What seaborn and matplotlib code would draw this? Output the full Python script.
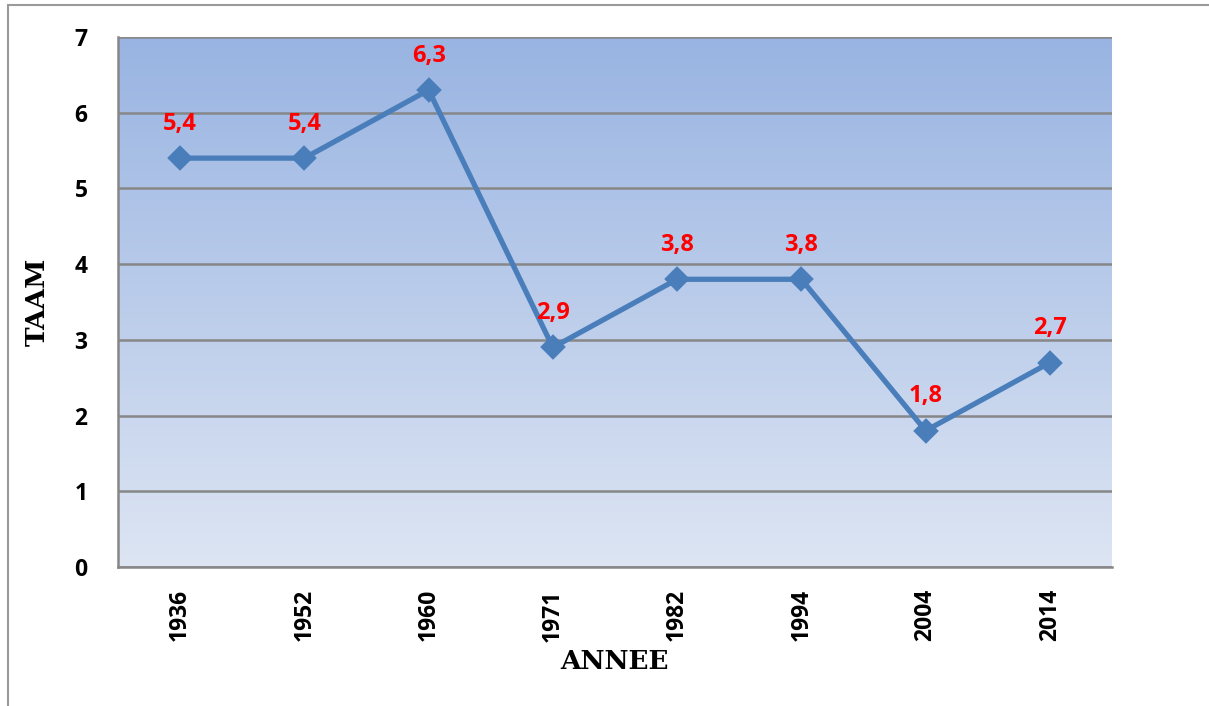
import numpy as np
import pandas as pd
import matplotlib.pyplot as plt
import seaborn as sns
from matplotlib.patches import Rectangle
from matplotlib.colors import LinearSegmentedColormap

annees = ["1936", "1952", "1960", "1971", "1982", "1994", "2004", "2014"]
taam = [5.4, 5.4, 6.3, 2.9, 3.8, 3.8, 1.8, 2.7]
df = pd.DataFrame({"ANNEE": annees, "TAAM": taam})

sns.set_style("white")
plt.rcParams["font.family"] = ["Open Sans", "DejaVu Sans"]
plt.rcParams["text.color"] = "black"
plt.rcParams["axes.labelcolor"] = "black"
plt.rcParams["xtick.labelcolor"] = "black"
plt.rcParams["ytick.labelcolor"] = "black"

fig = plt.figure(figsize=(12.09, 7.06), dpi=100)
ax = fig.add_axes([118 / 1209, 1 - 567 / 706, 994 / 1209, 530 / 706])

# outer frame of the chart area
fig.patches.append(Rectangle((8 / 1209, -0.1), 1.2, (706 - 5) / 706 + 0.1,
                             transform=fig.transFigure, fill=False,
                             edgecolor="#9a9a9a", linewidth=1.5))

# vertical gradient background
grad = np.linspace(0, 1, 256).reshape(-1, 1)
cmap = LinearSegmentedColormap.from_list("bg", ["#dde5f3", "#99b4e2"])
ax.imshow(grad, cmap=cmap, aspect="auto", extent=[0, 1, 0, 1],
          transform=ax.transAxes, origin="lower", zorder=0)

sns.pointplot(data=df, x="ANNEE", y="TAAM", color="#4a7ebb", markers="D",
              linewidth=3.8, markersize=10, ax=ax, zorder=3)

for i, v in enumerate(taam):
    ax.annotate(f"{v:.1f}".replace(".", ","), (i, v), xytext=(0, 16),
                textcoords="offset points", ha="center", va="bottom",
                color="red", fontsize=17, fontweight="bold", zorder=4)

ax.set_xlim(-0.5, len(annees) - 0.5)
ax.set_ylim(0, 7)
ax.set_yticks(range(0, 8))
ax.yaxis.grid(True, color="#878787", linewidth=1.8, zorder=1)
ax.set_axisbelow(False)
for l in ax.get_ygridlines():
    l.set_zorder(1)

ax.set_xticks(np.arange(len(annees)))
ax.set_xticklabels(annees, rotation=90, fontsize=16.5, fontweight="bold")
ax.set_xticks(np.arange(len(annees) + 1) - 0.5, minor=True)
ax.tick_params(axis="x", which="major", length=0, pad=16)
ax.tick_params(axis="x", which="minor", direction="in", length=8,
               width=1.5, color="#878787")
ax.tick_params(axis="y", length=0, pad=22, labelsize=16.5)
for t in ax.get_yticklabels():
    t.set_fontweight("bold")

for s in ["top", "right"]:
    ax.spines[s].set_visible(False)
for s in ["left", "bottom"]:
    ax.spines[s].set_color("#878787")
    ax.spines[s].set_linewidth(1.8)

ax.set_xlabel("ANNEE", fontsize=19, fontweight="bold",
              fontfamily="DejaVu Serif", labelpad=5)
ax.set_ylabel("TAAM", fontsize=19, fontweight="bold",
              fontfamily="DejaVu Serif", labelpad=18)

fig.savefig("out.png", dpi=100)
